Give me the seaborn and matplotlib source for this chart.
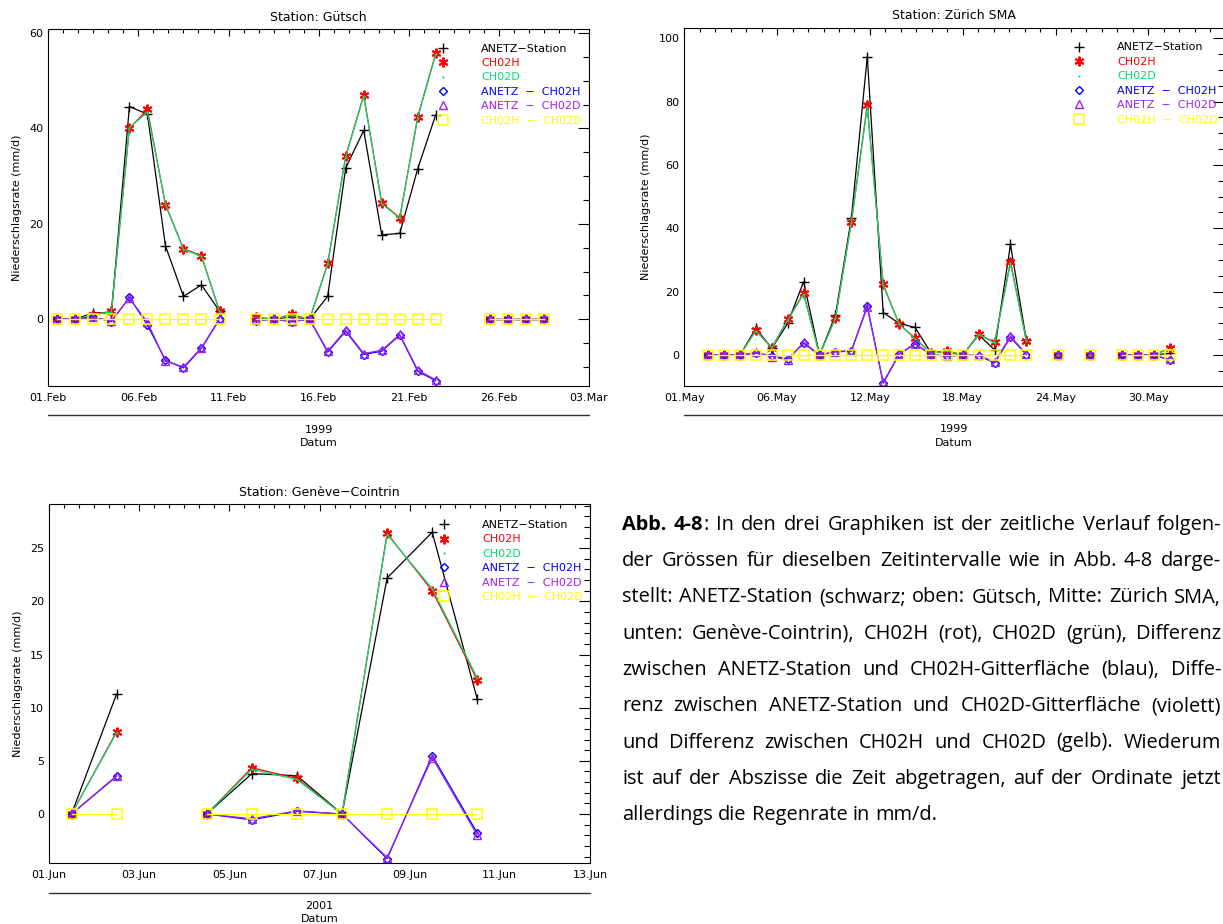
#!/usr/bin/env python3
import pandas as pd
import matplotlib
matplotlib.use("Agg")
import matplotlib.pyplot as plt
import seaborn as sns
from matplotlib.lines import Line2D
from matplotlib.ticker import FixedLocator, MultipleLocator

W, H = 1223, 924

# Station Gütsch, Februar 1999 (Tage nach 01.Feb 00:00)
g_day = [0.5, 1.5, 2.5, 3.5, 4.5, 5.5, 6.5, 7.5, 8.5, 9.5,
         11.5, 12.5, 13.5, 14.5, 15.5, 16.5, 17.5, 18.5, 19.5, 20.5, 21.5,
         24.5, 25.5, 26.5, 27.5]
g_seg = [1, 1, 1, 1, 1, 1, 1, 1, 1, 1,
         2, 2, 2, 2, 2, 2, 2, 2, 2, 2, 2,
         3, 3, 3, 3]
g_anetz = [0.0, 0.0, 1.4, 1.2, 44.6, 43.0, 15.4, 4.8, 7.2, 1.7,
           0.2, 0.0, 0.5, 0.0, 4.8, 31.7, 39.6, 17.7, 18.0, 31.6, 42.9,
           0.0, 0.0, 0.0, 0.0]
g_ch02h = [0.0, 0.0, 0.9, 1.7, 40.0, 44.0, 24.0, 14.8, 13.3, 1.7,
           0.5, 0.0, 1.0, 0.0, 11.7, 34.2, 47.0, 24.4, 21.3, 42.5, 55.8,
           0.0, 0.0, 0.0, 0.0]
g_ch02d = [0.0, 0.0, 1.0, 1.5, 40.2, 43.4, 24.2, 14.6, 13.2, 1.6,
           0.4, 0.0, 0.8, 0.0, 11.5, 34.0, 46.8, 24.2, 21.2, 42.3, 55.6,
           0.0, 0.0, 0.0, 0.0]
g_anetz_h = [0.0, 0.0, 0.5, -0.5, 4.6, -1.2, -8.6, -10.2, -6.1, 0.0,
             -0.3, 0.0, -0.5, 0.0, -6.9, -2.5, -7.4, -6.7, -3.3, -10.9, -12.9,
             0.0, 0.0, 0.0, 0.0]
g_anetz_d = [0.0, 0.0, 0.4, -0.3, 4.4, -0.6, -8.8, -10.0, -6.0, 0.1,
             -0.2, 0.0, -0.4, 0.0, -6.7, -2.3, -7.2, -6.5, -3.2, -10.7, -12.7,
             0.0, 0.0, 0.0, 0.0]
g_h_d = [0.0, 0.0, 0.0, 0.0, 0.0, 0.0, 0.0, 0.0, 0.0, 0.0,
         0.0, 0.0, 0.0, 0.0, 0.0, 0.0, 0.0, 0.0, 0.0, 0.0, 0.0,
         0.0, 0.0, 0.0, 0.0]
g_tick_pos = [0, 5, 10, 15, 20, 25, 30]
g_tick_lab = ["01.Feb", "06.Feb", "11.Feb", "16.Feb", "21.Feb", "26.Feb", "03.Mar"]

# Station Zürich SMA, Mai 1999
z_day = [1.5, 2.5, 3.5, 4.5, 5.5, 6.5, 7.5, 8.5, 9.5, 10.5, 11.5, 12.5, 13.5,
         14.5, 15.5, 16.5, 17.5, 18.5, 19.5, 20.5, 21.5,
         23.5, 25.5, 27.5, 28.5, 29.5, 30.5]
z_seg = [1, 1, 1, 1, 1, 1, 1, 1, 1, 1, 1, 1, 1,
         1, 1, 1, 1, 1, 1, 1, 1,
         2, 3, 4, 4, 4, 4]
z_anetz = [0.0, 0.0, 0.0, 8.4, 2.1, 10.0, 23.2, 0.0, 12.6, 43.2, 94.2, 13.4, 10.0,
           8.7, 0.7, 1.0, 0.0, 6.4, 1.6, 34.9, 4.6,
           0.0, 0.0, 0.0, 0.0, 0.0, 0.5]
z_ch02h = [0.0, 0.0, 0.0, 7.9, 2.3, 11.3, 19.5, 0.0, 11.8, 42.1, 78.9, 22.3, 9.8,
           5.3, 0.6, 1.4, 0.0, 6.6, 4.0, 29.5, 4.5,
           0.0, 0.0, 0.0, 0.0, 0.0, 2.1]
z_ch02d = [0.0, 0.0, 0.0, 7.6, 2.2, 11.0, 19.2, 0.0, 11.6, 41.8, 78.2, 22.0, 9.7,
           5.1, 0.5, 1.3, 0.0, 6.5, 3.8, 29.0, 4.4,
           0.0, 0.0, 0.0, 0.0, 0.0, 1.9]
z_anetz_h = [0.0, 0.0, 0.0, 0.6, -0.2, -1.3, 3.7, 0.0, 1.0, 1.2, 15.5, -8.9, 0.2,
             3.5, 0.1, -0.4, 0.0, -0.2, -2.5, 5.6, 0.1,
             0.0, 0.0, 0.0, 0.0, 0.0, -1.6]
z_anetz_d = [0.0, 0.0, 0.0, 0.8, -0.5, -1.6, 4.0, 0.0, 1.1, 1.4, 15.0, -8.6, 0.3,
             3.6, 0.2, -0.3, 0.0, -0.1, -2.2, 5.9, 0.2,
             0.0, 0.0, 0.0, 0.0, 0.0, -1.4]
z_h_d = [0.0, 0.0, 0.0, 0.0, 0.0, 0.0, 0.0, 0.0, 0.0, 0.0, 0.0, 0.0, 0.0,
         0.0, 0.0, 0.0, 0.0, 0.0, 0.0, 0.0, 0.0,
         0.0, 0.0, 0.0, 0.0, 0.0, 0.0]
z_tick_pos = [0, 5.833, 11.667, 17.5, 23.333, 29.167]
z_tick_lab = ["01.May", "06.May", "12.May", "18.May", "24.May", "30.May"]

# Station Genève-Cointrin, Juni 2001
c_day = [0.5, 1.5, 3.5, 4.5, 5.5, 6.5, 7.5, 8.5, 9.5]
c_seg = [1, 1, 2, 2, 2, 2, 2, 2, 2]
c_anetz = [0.0, 11.3, 0.0, 3.8, 3.6, 0.0, 22.2, 26.5, 10.8]
c_ch02h = [0.0, 7.75, 0.0, 4.35, 3.35, 0.0, 26.4, 21.0, 12.6]
c_ch02d = [0.0, 7.65, 0.0, 4.2, 3.25, 0.0, 26.3, 21.2, 12.8]
c_anetz_h = [0.0, 3.55, 0.0, -0.55, 0.25, 0.0, -4.2, 5.5, -1.8]
c_anetz_d = [0.0, 3.6, 0.0, -0.45, 0.3, 0.0, -4.1, 5.3, -2.0]
c_h_d = [0.0, 0.0, 0.0, 0.0, 0.0, 0.0, 0.0, 0.0, 0.0]
c_tick_pos = [0, 2, 4, 6, 8, 10, 12]
c_tick_lab = ["01.Jun", "03.Jun", "05.Jun", "07.Jun", "09.Jun", "11.Jun", "13.Jun"]

series_labels = ["ANETZ\u2212Station", "CH02H", "CH02D",
                 "ANETZ  \u2212  CH02H", "ANETZ  \u2212  CH02D", "CH02H  \u2212  CH02D"]
series_colors = ["#000000", "#ff0000", "#00e070", "#0000ff", "#a020f0", "#ffff00"]

caption_lines = [
    "Abb. 4-8: In den drei Graphiken ist der zeitliche Verlauf folgen-",
    "der Grössen für dieselben Zeitintervalle wie in Abb. 4-8 darge-",
    "stellt: ANETZ-Station (schwarz; oben: Gütsch, Mitte: Zürich SMA,",
    "unten: Genève-Cointrin), CH02H (rot), CH02D (grün), Differenz",
    "zwischen ANETZ-Station und CH02H-Gitterfläche (blau), Diffe-",
    "renz zwischen ANETZ-Station und CH02D-Gitterfläche (violett)",
    "und Differenz zwischen CH02H und CH02D (gelb). Wiederum",
    "ist auf der Abszisse die Zeit abgetragen, auf der Ordinate jetzt",
    "allerdings die Regenrate in mm/d.",
]

sns.set_theme(style="white")
plt.rcParams["font.family"] = ["DejaVu Sans"]
plt.rcParams["axes.linewidth"] = 0.8
plt.rcParams["text.color"] = "black"
plt.rcParams["axes.labelcolor"] = "black"
plt.rcParams["xtick.color"] = "black"
plt.rcParams["ytick.color"] = "black"


def fx(x):
    return x / W


def fy(y):
    return 1 - y / H


# marker styles in series order
marker_styles = [
    dict(marker="+", markersize=7, markeredgewidth=1.0),
    dict(marker=(6, 2, 0), markersize=7, markeredgewidth=1.4),
    dict(marker=".", markersize=2, markeredgewidth=0.5),
    dict(marker="D", markersize=4.5, markeredgewidth=1.0, markerfacecolor="none"),
    dict(marker="^", markersize=5.5, markeredgewidth=1.0, markerfacecolor="none"),
    dict(marker="s", markersize=7, markeredgewidth=1.1, markerfacecolor="none"),
]

panels = [
    dict(box=(48.3, 29.3, 589.0, 386.0), title="Station: Gütsch",
         day=g_day, seg=g_seg,
         values=[g_anetz, g_ch02h, g_ch02d, g_anetz_h, g_anetz_d, g_h_d],
         xlim=(0, 30), ticks=g_tick_pos, labels=g_tick_lab, xminor=5 / 6,
         ylim=(-14.0, 60.8), ymajor=20, yminor=5, year="1999",
         year_y=(414.5, 430, 443), leg=(443, 481, 43.5)),
    dict(box=(684.3, 27.7, 1224.0, 386.0), title="Station: Zürich SMA",
         day=z_day, seg=z_seg,
         values=[z_anetz, z_ch02h, z_ch02d, z_anetz_h, z_anetz_d, z_h_d],
         xlim=(0, 33.92), ticks=z_tick_pos, labels=z_tick_lab, xminor=5.8333 / 6,
         ylim=(-9.79, 103.35), ymajor=20, yminor=5, year="1999",
         year_y=(415, 429, 443), leg=(1079, 1117, 42.5)),
    dict(box=(49.0, 504.0, 590.0, 862.7), title="Station: Genève\u2212Cointrin",
         day=c_day, seg=c_seg,
         values=[c_anetz, c_ch02h, c_ch02d, c_anetz_h, c_anetz_d, c_h_d],
         xlim=(0, 12), ticks=c_tick_pos, labels=c_tick_lab, xminor=2 / 6,
         ylim=(-4.58, 29.16), ymajor=5, yminor=1, year="2001",
         year_y=(892.7, 906, 919), leg=(444, 482, 520)),
]

fig = plt.figure(figsize=(W / 100, H / 100), dpi=100)
fig.patch.set_facecolor("white")

fs = 8
for p in panels:
    l, t, r, b = p["box"]
    ax = fig.add_axes([fx(l), fy(b), (r - l) / W, (b - t) / H])
    for vals, col, ms in zip(p["values"], series_colors, marker_styles):
        df = pd.DataFrame({"day": p["day"], "seg": p["seg"], "val": vals})
        sns.lineplot(data=df, x="day", y="val", units="seg", estimator=None,
                     ax=ax, legend=False, color=col, linewidth=0.9,
                     markeredgecolor=col, **ms)
    ax.set_xlim(*p["xlim"])
    ax.set_ylim(*p["ylim"])
    ax.xaxis.set_major_locator(FixedLocator(p["ticks"]))
    ax.set_xticklabels(p["labels"])
    ax.xaxis.set_minor_locator(MultipleLocator(p["xminor"]))
    ax.yaxis.set_major_locator(MultipleLocator(p["ymajor"]))
    ax.yaxis.set_minor_locator(MultipleLocator(p["yminor"]))
    ax.tick_params(which="both", direction="in", top=True, right=True,
                   width=0.8, colors="black", labelsize=fs)
    ax.tick_params(axis="x", which="major", length=5, pad=5)
    ax.tick_params(axis="x", which="minor", length=2.6)
    ax.tick_params(axis="y", which="major", length=8, pad=3.5)
    ax.tick_params(axis="y", which="minor", length=4)
    for s in ax.spines.values():
        s.set_color("black")
        s.set_linewidth(0.8)
    ax.set_xlabel("")
    ax.set_ylabel("Niederschlagsrate (mm/d)", fontsize=fs, labelpad=5)
    ax.set_title(p["title"], fontsize=9, pad=6)

    # second date level: year and axis name
    yl, yy, yd = p["year_y"]
    fig.add_artist(Line2D([fx(l), fx(r)], [fy(yl), fy(yl)], transform=fig.transFigure,
                          color="#303030", linewidth=1.0))
    cx = (l + r) / 2
    fig.text(fx(cx), fy(yy), p["year"], ha="center", va="center", fontsize=fs)
    fig.text(fx(cx), fy(yd), "Datum", ha="center", va="center", fontsize=fs)

    # legend: symbols column + coloured text
    mx, tx, ty = p["leg"]
    fpx = fs * 100 / 72
    handles = [Line2D([], [], linestyle="none", color=c, markeredgecolor=c, **ms)
               for c, ms in zip(series_colors, marker_styles)]
    ax.legend(handles, series_labels, loc="upper left",
              bbox_to_anchor=(fx(mx - fpx / 2), fy(ty)),
              bbox_transform=fig.transFigure, frameon=False, fontsize=fs,
              handlelength=1.0, handletextpad=(tx - mx - fpx / 2) / fpx,
              labelspacing=0.4, borderpad=0, borderaxespad=0,
              labelcolor=series_colors, numpoints=1)

# caption, justified block
cap_family = ["Open Sans", "DejaVu Sans"]
cap_size = 14.4
cap_left, cap_right = 622, 1221
cap_base0, cap_step = 530, 36.25
renderer = fig.canvas.get_renderer()
space_px = cap_size * 100 / 72 * 0.26
for i, line in enumerate(caption_lines):
    words = line.split(" ")
    pieces_per_word = []
    for j, w in enumerate(words):
        if i == 0 and j == 0:
            pieces_per_word.append([(w, "bold")])
        elif i == 0 and j == 1:
            pieces_per_word.append([(w[:-1], "bold"), (w[-1], "normal")])
        else:
            pieces_per_word.append([(w, "normal")])
    texts = []
    widths = []
    for pcs in pieces_per_word:
        wt = []
        tot = 0
        for s, weight in pcs:
            tt = fig.text(0, 0, s, fontsize=cap_size, family=cap_family,
                          fontweight=weight, va="baseline", ha="left")
            bw = tt.get_window_extent(renderer).width
            wt.append((tt, bw))
            tot += bw
        texts.append(wt)
        widths.append(tot)
    if i < len(caption_lines) - 1:
        gap = (cap_right - cap_left - sum(widths)) / (len(words) - 1)
        gap = max(gap, space_px * 0.6)
    else:
        gap = space_px
    x = cap_left
    yb = cap_base0 + i * cap_step
    for wt, ww in zip(texts, widths):
        xx = x
        for tt, bw in wt:
            tt.set_position((fx(xx), fy(yb)))
            xx += bw
        x += ww + gap

fig.savefig("out.png", dpi=100, facecolor="white")
